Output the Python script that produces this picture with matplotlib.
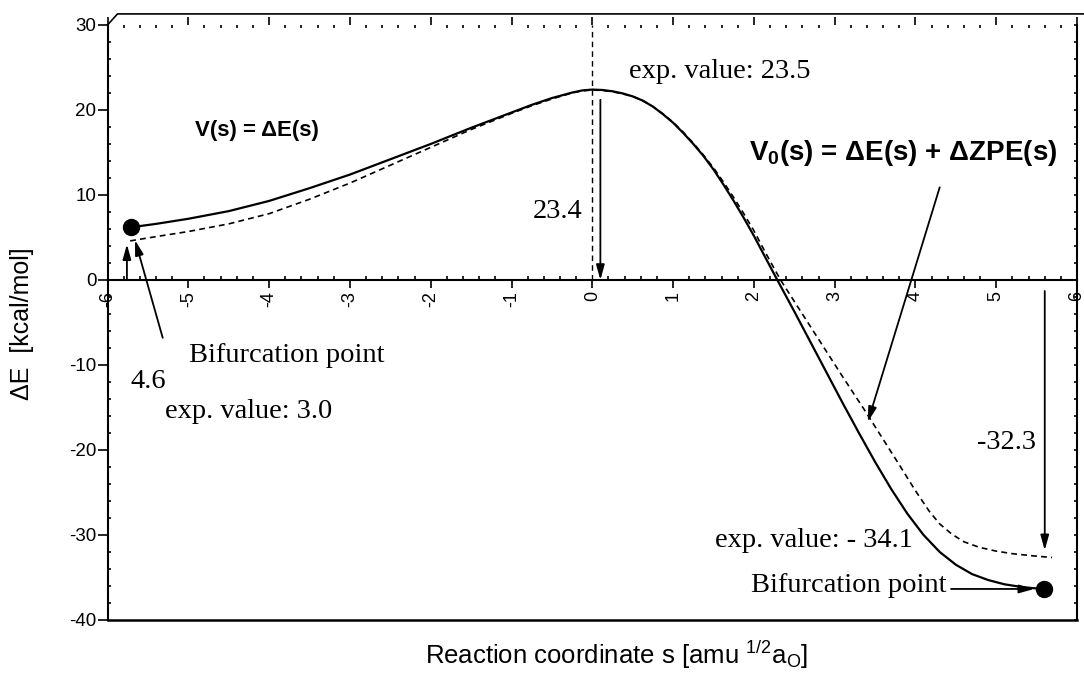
import numpy as np
import matplotlib
matplotlib.use("Agg")
import matplotlib.pyplot as plt
from matplotlib.ticker import MultipleLocator

plt.rcParams['font.family'] = 'Liberation Sans'
plt.rcParams['axes.unicode_minus'] = False
plt.rcParams['mathtext.fontset'] = 'custom'
plt.rcParams['mathtext.rm'] = 'Liberation Sans'
plt.rcParams['mathtext.it'] = 'Liberation Sans:italic'
plt.rcParams['mathtext.bf'] = 'Liberation Sans:bold'

# V(s) = dE(s) along the reaction path (kcal/mol)
s_dE = [-5.71, -5.4, -5.0, -4.5, -4.0, -3.5, -3.0, -2.5, -2.0, -1.5, -1.0,
        -0.75, -0.5, -0.25, -0.125, 0.0, 0.125, 0.25, 0.375, 0.5, 0.625, 0.75,
        0.875, 1.0, 1.125, 1.25, 1.375, 1.5, 1.625, 1.75, 1.875, 2.0, 2.15,
        2.29, 2.5, 2.7, 2.9, 3.1, 3.3, 3.5, 3.7, 3.9, 4.1, 4.3, 4.5, 4.7,
        4.9, 5.1, 5.3, 5.45, 5.59]
dE = [6.2, 6.6, 7.2, 8.1, 9.3, 10.8, 12.4, 14.2, 16.0, 17.9, 19.7,
      20.6, 21.4, 22.05, 22.3, 22.4, 22.35, 22.2, 21.95, 21.6, 21.1, 20.4,
      19.5, 18.5, 17.3, 16.0, 14.6, 13.0, 11.2, 9.3, 7.3, 5.2, 2.5,
      0.0, -3.7, -7.3, -10.9, -14.5, -18.0, -21.4, -24.6, -27.5, -30.0, -32.0, -33.5, -34.6,
      -35.3, -35.8, -36.1, -36.25, -36.35]

# V0(s) = dE(s) + dZPE(s)
s_zpe = [-5.72, -5.4, -5.0, -4.5, -4.0, -3.5, -3.0, -2.5, -2.0, -1.5, -1.0,
         -0.75, -0.5, -0.25, -0.125, 0.0, 0.125, 0.25, 0.375, 0.5, 0.625, 0.75,
         0.875, 1.0, 1.125, 1.25, 1.375, 1.5, 1.625, 1.75, 1.875, 2.0, 2.15,
         2.33, 2.6, 2.85, 3.1, 3.39, 3.6, 3.8, 4.0, 4.17, 4.3, 4.45, 4.6, 4.79,
         5.0, 5.2, 5.45, 5.69]
dE_zpe = [4.6, 5.1, 5.7, 6.6, 7.8, 9.5, 11.4, 13.5, 15.6, 17.7, 19.6,
          20.5, 21.3, 22.0, 22.25, 22.35, 22.3, 22.15, 21.9, 21.6, 21.1, 20.4,
          19.55, 18.55, 17.4, 16.1, 14.7, 13.2, 11.5, 9.7, 7.8, 5.8, 3.1,
          0.0, -4.0, -7.7, -11.4, -15.6, -18.75, -21.75, -24.8, -27.2, -28.7, -29.9, -30.8, -31.45,
          -31.9, -32.2, -32.45, -32.65]

x_ticks = [-6, -5, -4, -3, -2, -1, 0, 1, 2, 3, 4, 5, 6]
y_ticks = [-40, -30, -20, -10, 0, 10, 20, 30]

fig = plt.figure(figsize=(10.84, 6.75), dpi=100)
ax = fig.add_axes([0.0992, 0.0815, 0.8944, 0.8815])
ax.set_xlim(-6, 6)
ax.set_ylim(-40, 30)

# x axis runs through zero, frame drawn by hand
ax.spines['bottom'].set_position(('data', 0))
ax.spines['top'].set_visible(False)
ax.spines['right'].set_visible(False)
for sp in ax.spines.values():
    sp.set_linewidth(1.5)

ax.set_xticks(x_ticks)
ax.set_xticklabels([str(t) for t in x_ticks])
ax.xaxis.set_minor_locator(MultipleLocator(0.2))
ax.set_yticks(y_ticks)
ax.yaxis.set_minor_locator(MultipleLocator(2))
ax.tick_params(axis='x', which='major', direction='out', length=6, width=1.2,
               labelsize=13, labelrotation=90, pad=2)
ax.tick_params(axis='x', which='minor', direction='in', length=3, width=1.2)
ax.tick_params(axis='y', which='major', direction='out', length=7, width=1.2,
               labelsize=13.5, pad=1)
ax.tick_params(axis='y', which='minor', direction='in', length=2.5, width=1.2)

top = ax.secondary_xaxis('top')
top.set_xticks(x_ticks)
top.xaxis.set_minor_locator(MultipleLocator(0.2))
top.tick_params(which='major', direction='out', length=6, width=1.2, labeltop=False)
top.tick_params(which='minor', direction='in', length=2.5, width=1.2)
top.spines['top'].set_visible(False)

right = ax.secondary_yaxis('right')
right.set_yticks(y_ticks)
right.yaxis.set_minor_locator(MultipleLocator(2))
right.tick_params(which='both', direction='in', length=2.5, width=1.2, labelright=False)
right.spines['right'].set_linewidth(1.5)

ax.plot([-6, 6], [-40, -40], color='k', lw=1.8, clip_on=False)
ax.plot([-6, -5.877, 6.08], [30, 31.3, 31.3], color='k', lw=1.2, clip_on=False)

# potential curves
ax.plot(s_dE, dE, color='k', lw=1.6)
ax.plot(s_zpe, dE_zpe, color='k', lw=1.2, linestyle='--', dashes=(3.5, 2.5))
ax.plot([s_dE[0], s_dE[-1]], [dE[0], dE[-1]], 'o', color='k', ms=11.5, clip_on=False)

ax.plot([0, 0], [0, 30], color='k', lw=1.0, linestyle='--', dashes=(4, 3))

arrow = dict(arrowstyle='-|>,head_length=0.9,head_width=0.25', color='k',
             lw=1.3, shrinkA=0, shrinkB=0, mutation_scale=10)


def arr(tail, tip):
    ax.annotate('', xy=tip, xytext=tail, arrowprops=arrow, annotation_clip=False)


arr((0.1, 21.2), (0.1, 0.0))
arr((-5.76, 0.0), (-5.76, 4.2))
arr((-5.317, -6.8), (-5.66, 4.7))
arr((4.30, 10.9), (3.41, -16.7))
arr((5.60, -1.3), (5.60, -31.8))
arr((4.44, -36.35), (5.47, -36.35))

serif = dict(family='Liberation Serif', fontsize=20.5, va='center', ha='left')
ax.text(0.46, 24.5, 'exp. value: 23.5', **serif)
ax.text(-0.735, 8.1, '23.4', **serif)
ax.text(-4.99, -8.9, 'Bifurcation point', **serif)
ax.text(-5.72, -12.0, '4.6', **serif)
ax.text(-5.29, -15.5, 'exp. value: 3.0', **serif)
ax.text(4.76, -19.1, '-32.3', **serif)
ax.text(1.52, -30.6, 'exp. value: - 34.1', **serif)
ax.text(1.97, -35.9, 'Bifurcation point', **serif)

ax.text(-4.92, 16.9, 'V(s) = ΔE(s)', fontsize=16, fontweight='bold', ha='left', va='baseline')
ax.text(1.94, 14.1, r'$\mathbf{V_0}$(s) = ΔE(s) + ΔZPE(s)', fontsize=20,
        fontweight='bold', ha='left', va='baseline')

fig.text(22 / 1084, 1 - 324 / 675, 'ΔE  [kcal/mol]', rotation=90, fontsize=18,
         ha='center', va='center')
fig.text(617 / 1084, 1 - 655 / 675, r'Reaction coordinate s [amu $^{1/2}$a$_{\mathrm{O}}$]',
         fontsize=18.5, ha='center', va='center')

fig.savefig('out.png', dpi=100)
